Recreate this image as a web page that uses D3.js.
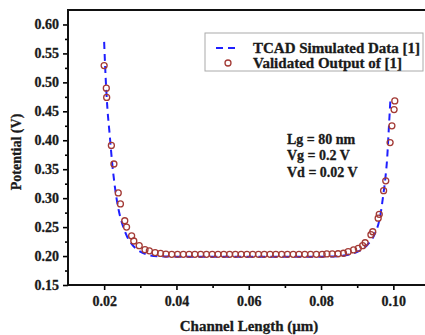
<!DOCTYPE html>
<html>
<head>
<meta charset="utf-8">
<script src="https://cdn.jsdelivr.net/npm/d3@7"></script>
<style>
  body { margin: 0; background: #fff; }
</style>
</head>
<body>
<div id="chart"></div>
<script>
// TCAD potential profile along the channel
const tcadX = [0.0200, 0.0204, 0.0209, 0.0215, 0.0222, 0.0230, 0.0240, 0.0252, 0.0264, 0.0277,
               0.0292, 0.0308, 0.0328, 0.0355, 0.0400, 0.0600, 0.0800, 0.0850, 0.0880, 0.0903,
               0.0929, 0.0947, 0.0965, 0.0972, 0.0978, 0.0983, 0.0987, 0.0992]
const tcadY = [0.570, 0.510, 0.455, 0.412, 0.362, 0.318, 0.280, 0.252, 0.233, 0.220,
               0.211, 0.205, 0.201, 0.1995, 0.199, 0.199, 0.199, 0.200, 0.203, 0.208,
               0.220, 0.236, 0.274, 0.305, 0.335, 0.370, 0.415, 0.472]

// model output points
const modelX = [0.0200, 0.0206, 0.0207, 0.0220, 0.0227, 0.0239, 0.0245, 0.0257, 0.0262, 0.0276,
                0.0282, 0.0297, 0.0313, 0.0325, 0.0341, 0.0356, 0.0371,
                0.0387, 0.0403, 0.0419, 0.0435, 0.0451, 0.0467, 0.0483, 0.0499, 0.0515, 0.0531,
                0.0547, 0.0563, 0.0579, 0.0595, 0.0611, 0.0627, 0.0643, 0.0659, 0.0675, 0.0691,
                0.0707, 0.0723, 0.0739, 0.0755, 0.0771, 0.0787, 0.0803,
                0.0816, 0.0831, 0.0847, 0.0862, 0.0875, 0.0890, 0.0903, 0.0915, 0.0922, 0.0938,
                0.0943, 0.0958, 0.0961, 0.0973, 0.0979, 0.0991, 0.0996, 0.1002, 0.1004]
const modelY = [0.529, 0.490, 0.474, 0.391, 0.359, 0.309, 0.290, 0.261, 0.250, 0.235,
                0.226, 0.218, 0.211, 0.209, 0.206, 0.2045, 0.2035,
                0.203, 0.203, 0.203, 0.203, 0.203, 0.203, 0.203, 0.203, 0.203, 0.203,
                0.203, 0.203, 0.203, 0.203, 0.203, 0.203, 0.203, 0.203, 0.203, 0.203,
                0.203, 0.203, 0.203, 0.203, 0.203, 0.203, 0.203,
                0.2036, 0.2036, 0.204, 0.2048, 0.2076, 0.2105, 0.2134, 0.218, 0.223, 0.237,
                0.242, 0.2655, 0.272, 0.313, 0.330, 0.396, 0.425, 0.453, 0.468]

const xTicks = [0.02, 0.04, 0.06, 0.08, 0.10]
const yTicks = [0.15, 0.20, 0.25, 0.30, 0.35, 0.40, 0.45, 0.50, 0.55, 0.60]
const legendLabels = ["TCAD Simulated Data [1]", "Validated Output of [1]"]
const notes = ["Lg = 80 nm", "Vg = 0.2 V", "Vd = 0.02 V"]

const width = 425, height = 335
const margin = {top: 10, right: -4.5, bottom: 50, left: 68}

const blue = "#1f1fff", red = "#a33a35"
const serif = "'Liberation Serif', 'Times New Roman', serif"

const svg = d3.select("#chart").append("svg")
  .attr("width", width).attr("height", height)

const x = d3.scaleLinear().domain([0.01, 0.11]).range([margin.left, width - margin.right])
const y = d3.scaleLinear().domain([0.15, 0.625]).range([height - margin.bottom, margin.top])

function txt(sel, size) {
  return sel.style("font-family", serif).style("font-weight", "bold")
    .style("font-size", size + "px").attr("fill", "#1a1a1a")
    .attr("stroke", "#1a1a1a").attr("stroke-width", 0.3)
}

// minor ticks first, then the labelled axes on top
svg.append("g")
  .attr("transform", `translate(0,${y(0.15)})`)
  .call(d3.axisBottom(x).tickValues([0.03, 0.05, 0.07, 0.09]).tickSize(3).tickFormat(""))
svg.append("g")
  .attr("transform", `translate(${x(0.01)},0)`)
  .call(d3.axisLeft(y).tickValues(d3.range(0.175, 0.62, 0.05)).tickSize(3).tickFormat(""))

const xAxis = svg.append("g")
  .attr("transform", `translate(0,${y(0.15)})`)
  .call(d3.axisBottom(x).tickValues(xTicks).tickSize(5).tickPadding(6).tickFormat(d3.format(".2f")))
const yAxis = svg.append("g")
  .attr("transform", `translate(${x(0.01)},0)`)
  .call(d3.axisLeft(y).tickValues(yTicks).tickSize(5).tickPadding(4).tickFormat(d3.format(".2f")))

svg.selectAll(".domain").remove()
svg.selectAll(".tick line").attr("stroke-width", 1.6)
txt(xAxis.selectAll("text"), 14)
txt(yAxis.selectAll("text"), 14)

// frame
svg.append("rect")
  .attr("x", x(0.01)).attr("y", y(0.625))
  .attr("width", x(0.11) - x(0.01)).attr("height", y(0.15) - y(0.625))
  .attr("fill", "none").attr("stroke", "#111").attr("stroke-width", 2)

const line = d3.line()
  .x((d, i) => x(tcadX[i]))
  .y(d => y(d))
  .curve(d3.curveMonotoneX)

svg.append("path")
  .datum(tcadY)
  .attr("d", line)
  .attr("fill", "none")
  .attr("stroke", blue)
  .attr("stroke-width", 2)
  .attr("stroke-dasharray", "7,5")

svg.append("g").selectAll("circle")
  .data(modelY)
  .enter().append("circle")
  .attr("cx", (d, i) => x(modelX[i]))
  .attr("cy", d => y(d))
  .attr("r", 3)
  .attr("fill", "none")
  .attr("stroke", red)
  .attr("stroke-width", 1.3)

// legend
const lg = svg.append("g")
lg.append("rect")
  .attr("x", 205).attr("y", 33).attr("width", 218).attr("height", 38)
  .attr("fill", "#fff").attr("stroke", "#aaa").attr("stroke-width", 1)
lg.append("line")
  .attr("x1", 216).attr("x2", 239).attr("y1", 48).attr("y2", 48)
  .attr("stroke", blue).attr("stroke-width", 2).attr("stroke-dasharray", "7,5")
lg.append("circle")
  .attr("cx", 228).attr("cy", 63).attr("r", 3)
  .attr("fill", "none").attr("stroke", red).attr("stroke-width", 1.3)
txt(lg.selectAll("text.lab")
  .data(legendLabels)
  .enter().append("text")
  .attr("x", 253).attr("y", (d, i) => 53 + i * 15)
  .text(d => d), 15)

txt(svg.selectAll("text.note")
  .data(notes)
  .enter().append("text")
  .attr("x", 287).attr("y", (d, i) => 144 + i * 16.3)
  .text(d => d), 14)

// axis titles
txt(svg.append("text")
  .attr("x", 249).attr("y", 331)
  .attr("text-anchor", "middle")
  .text("Channel Length (μm)"), 15)

txt(svg.append("text")
  .attr("transform", "translate(21,152) rotate(-90)")
  .attr("text-anchor", "middle")
  .text("Potential (V)"), 14)
</script>
</body>
</html>
